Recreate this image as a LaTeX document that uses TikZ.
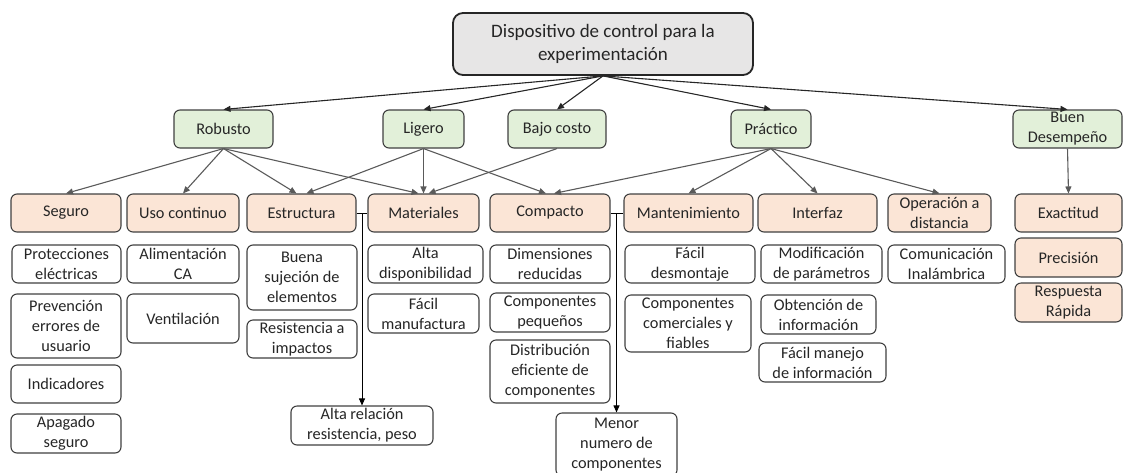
\documentclass[tikz,border=0pt]{standalone}
\usepackage{fontspec}
\setmainfont{Carlito}
\usetikzlibrary{arrows.meta}
\definecolor{topfill}{HTML}{E7E6E6}
\definecolor{grnfill}{HTML}{E2F0D9}
\definecolor{pchfill}{HTML}{FBE5D6}
\definecolor{bordc}{HTML}{404040}
\definecolor{arrA}{HTML}{262626}
\definecolor{arrB}{HTML}{5A5A5A}
\definecolor{txtc}{HTML}{262626}
\tikzset{
 base/.style={draw=bordc, line width=1.1pt, rounded corners=6pt, inner sep=0pt, align=center, text=txtc, font=\fontsize{16.3}{19.9}\selectfont},
 topbox/.style={base, fill=topfill, line width=1.8pt, draw=black!85, rounded corners=10pt, font=\fontsize{19}{23.2}\selectfont},
 lvlone/.style={base, fill=grnfill},
 lvltwo/.style={base, fill=pchfill},
 leafbox/.style={base, fill=white},
 tipa/.style={-{Triangle[length=7pt,width=6pt]}},
 arrtop/.style={draw=arrA, line width=1.1pt, tipa},
 arrmid/.style={draw=arrB, line width=1.1pt, tipa},
 elbow/.style={draw=black, line width=0.9pt},
}
\newcommand\bx[7]{\node[#6, minimum width={#4-#2}, minimum height={#5-#3}] (#1) at ({(#2+#4)/2},{(#3+#5)/2}) {#7};}
\begin{document}
\begin{tikzpicture}[x=1pt,y=-1pt]
\useasboundingbox (0,0) rectangle (1123,472);
% top
\bx{top}{453}{13}{753}{75}{topbox}{Dispositivo de control para la\\experimentación}
% level 1
\bx{rob}{174}{110}{273}{148}{lvlone}{Robusto}
\bx{lig}{383}{110}{464}{148}{lvlone}{Ligero}
\bx{baj}{508}{110}{606}{148}{lvlone}{Bajo costo}
\bx{pra}{731}{110}{811}{148}{lvlone}{Práctico}
\bx{bue}{1013}{110}{1122}{148}{lvlone}{Buen\\Desempeño}
% level 2
\bx{seg}{11}{194}{121}{232}{lvltwo}{Seguro}
\bx{uso}{127}{194}{239}{232}{lvltwo}{Uso continuo}
\bx{est}{247}{194}{356}{232}{lvltwo}{Estructura}
\bx{mat}{368}{194}{479}{232}{lvltwo}{Materiales}
\bx{com}{490}{194}{610}{232}{lvltwo}{Compacto}
\bx{man}{624}{194}{753}{232}{lvltwo}{Mantenimiento}
\bx{int}{758}{194}{877}{232}{lvltwo}{Interfaz}
\bx{ope}{888}{194}{991}{232}{lvltwo}{Operación a\\distancia}
\bx{exa}{1015}{194}{1122}{232}{lvltwo}{Exactitud}
\bx{pre}{1015}{238}{1122}{277}{lvltwo}{Precisión}
\bx{res}{1015}{283}{1122}{322}{lvltwo}{Respuesta\\Rápida}
% leaves: Seguro
\bx{pro}{12}{245}{121}{283}{leafbox}{Protecciones\\eléctricas}
\bx{prv}{11}{294}{121}{358}{leafbox}{Prevención\\errores de\\usuario}
\bx{ind}{11}{365}{121}{403}{leafbox}{Indicadores}
\bx{apa}{11}{414}{121}{453}{leafbox}{Apagado\\seguro}
% Uso continuo
\bx{ali}{127}{245}{239}{283}{leafbox}{Alimentación\\CA}
\bx{ven}{127}{294}{239}{343}{leafbox}{Ventilación}
% Estructura
\bx{bue3}{247}{245}{357}{310}{leafbox}{Buena\\sujeción de\\elementos}
\bx{rsi}{247}{320}{357}{358}{leafbox}{Resistencia a\\impactos}
\bx{alt}{291}{406}{433}{445}{leafbox}{Alta relación\\resistencia, peso}
% Materiales
\bx{dis}{368}{245}{483}{283}{leafbox}{Alta\\disponibilidad}
\bx{fma}{368}{294}{479}{333}{leafbox}{Fácil\\manufactura}
% Compacto
\bx{dim}{490}{245}{610}{283}{leafbox}{Dimensiones\\reducidas}
\bx{cpq}{490}{293}{610}{332}{leafbox}{Componentes\\pequeños}
\bx{dsb}{490}{340}{610}{403}{leafbox}{Distribución\\eficiente de\\componentes}
\bx{men}{556}{413}{677}{476}{leafbox}{Menor\\numero de\\componentes}
% Mantenimiento
\bx{fde}{625}{245}{755}{283}{leafbox}{Fácil\\desmontaje}
\bx{ccf}{625}{295}{751}{352}{leafbox}{Componentes\\comerciales y\\fiables}
% Interfaz
\bx{mod}{761}{245}{882}{283}{leafbox}{Modificación\\de parámetros}
\bx{obt}{761}{295}{876}{334}{leafbox}{Obtención de\\información}
\bx{fmi}{759}{343}{886}{382}{leafbox}{Fácil manejo\\de información}
% Operación
\bx{cin}{888}{245}{1005}{283}{leafbox}{Comunicación\\Inalámbrica}
% top arrows
\foreach \t in {rob,lig,baj,pra,bue}{\draw[arrtop] (top.south) -- (\t.north);}
% level 1 -> level 2
\draw[arrmid] (rob.south) -- (seg.north);
\draw[arrmid] (rob.south) -- (uso.north);
\draw[arrmid] (rob.south) -- ([xshift=-5pt]est.north);
\draw[arrmid] (rob.south) -- ([xshift=-5pt]mat.north);
\draw[arrmid] (lig.south) -- ([xshift=5pt]est.north);
\draw[arrmid] (lig.south) -- (mat.north);
\draw[arrmid] (lig.south) -- ([xshift=-4pt]com.north);
\draw[arrmid] (baj.south) -- ([xshift=5pt]mat.north);
\draw[arrmid] (pra.south) -- ([xshift=4pt]com.north);
\draw[arrmid] (pra.south) -- (man.north);
\draw[arrmid] (pra.south) -- (int.north);
\draw[arrmid] (pra.south) -- (ope.north);
\draw[arrmid] (bue.south) -- (exa.north);
% elbow connectors
\draw[elbow] (est.east) -- (mat.west);
\draw[elbow, tipa] (est.east -| alt.north) -- (alt.north);
\draw[elbow] (com.east) -- (man.west);
\draw[elbow, tipa] (com.east -| men.north) -- (men.north);
\end{tikzpicture}
\end{document}
